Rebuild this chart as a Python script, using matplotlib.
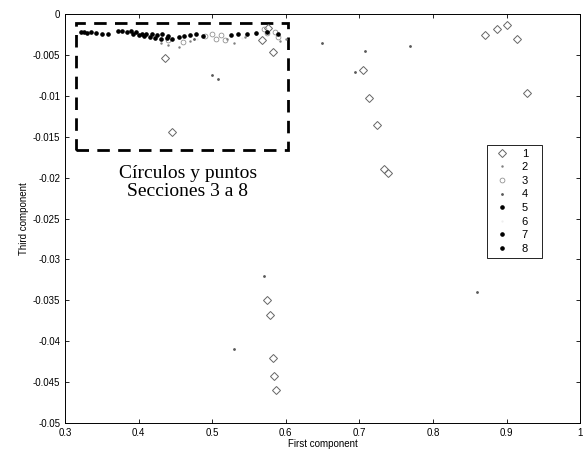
import matplotlib.pyplot as plt
from matplotlib.patches import Rectangle

plt.rcParams['font.family'] = ['Liberation Sans', 'DejaVu Sans']

# series 1: hollow diamonds
s1_x = [0.436, 0.445, 0.568, 0.576, 0.583, 0.575, 0.578, 0.582, 0.584, 0.587,
        0.705, 0.713, 0.724, 0.734, 0.739, 0.871, 0.887, 0.900, 0.914, 0.928]
s1_y = [-0.0054, -0.0144, -0.0032, -0.0017, -0.0046, -0.0350, -0.0368, -0.0420,
        -0.0443, -0.0460, -0.0068, -0.0103, -0.0136, -0.0190, -0.0194,
        -0.0026, -0.0018, -0.0013, -0.0031, -0.0097]

# series 2: tiny dotted points
s2_x = [0.430, 0.455, 0.470, 0.530, 0.545, 0.560, 0.440, 0.592, 0.600, 0.520]
s2_y = [-0.0035, -0.0040, -0.0033, -0.0035, -0.0028, -0.0024, -0.0038, -0.0033,
        -0.0030, -0.0031]

# series 3: small dashed circles
s3_x = [0.440, 0.460, 0.490, 0.500, 0.505, 0.512, 0.518, 0.570, 0.575, 0.586, 0.590]
s3_y = [-0.0032, -0.0034, -0.0027, -0.0024, -0.0030, -0.0026, -0.0032, -0.0018,
        -0.0023, -0.0022, -0.0028]

# series 4: small points
s4_x = [0.649, 0.708, 0.769, 0.500, 0.508, 0.860, 0.530, 0.570, 0.694, 0.475]
s4_y = [-0.0035, -0.0045, -0.0039, -0.0075, -0.0080, -0.0340, -0.0410, -0.0320,
        -0.0071, -0.0030]

# series 5: black dots
s5_x = [0.322, 0.326, 0.330, 0.335, 0.342, 0.350, 0.358, 0.372, 0.378, 0.384,
        0.390, 0.396, 0.404, 0.410, 0.418, 0.425, 0.432, 0.440]
s5_y = [-0.0022, -0.0022, -0.0023, -0.0022, -0.0023, -0.0024, -0.0024, -0.0021,
        -0.0021, -0.0022, -0.0021, -0.0022, -0.0024, -0.0025, -0.0024, -0.0026,
        -0.0025, -0.0027]

# series 6
s6_x = [0.480, 0.540]
s6_y = [-0.0030, -0.0029]

# series 7: black dots
s7_x = [0.455, 0.462, 0.470, 0.478, 0.488, 0.525, 0.535, 0.548, 0.560, 0.575, 0.590]
s7_y = [-0.0028, -0.0027, -0.0026, -0.0025, -0.0027, -0.0026, -0.0025, -0.0024,
        -0.0023, -0.0022, -0.0024]

# series 8: black dots
s8_x = [0.392, 0.400, 0.408, 0.415, 0.422, 0.430, 0.438, 0.446]
s8_y = [-0.0025, -0.0026, -0.0027, -0.0028, -0.0029, -0.0030, -0.0029, -0.0031]

xticks = [0.3, 0.4, 0.5, 0.6, 0.7, 0.8, 0.9, 1.0]
xlabels = ['0.3', '0.4', '0.5', '0.6', '0.7', '0.8', '0.9', '1']
yticks = [0, -0.005, -0.01, -0.015, -0.02, -0.025, -0.03, -0.035, -0.04, -0.045, -0.05]
ylabels = ['0', '-0.005', '-0.01', '-0.015', '-0.02', '-0.025', '-0.03', '-0.035',
           '-0.04', '-0.045', '-0.05']

fig = plt.figure(figsize=(5.83, 4.51), dpi=100)
ax = fig.add_axes([0.1115, 0.062, 0.8835, 0.907])

ax.plot(s1_x, s1_y, 'D', ms=4, mfc='none', mec='0.4', mew=0.7, ls='none', label='1')
ax.plot(s2_x, s2_y, '.', ms=1.5, color='0.5', ls='none', label='2')
ax.plot(s3_x, s3_y, 'o', ms=3.5, mfc='none', mec='0.5', mew=0.5, ls='none', label='3')
ax.plot(s4_x, s4_y, '.', ms=2, color='0.35', ls='none', label='4')
ax.plot(s5_x, s5_y, 'o', ms=2.3, color='k', ls='none', label='5')
ax.plot(s6_x, s6_y, '.', ms=1, color='0.92', ls='none', label='6')
ax.plot(s7_x, s7_y, 'o', ms=2.3, color='k', ls='none', label='7')
ax.plot(s8_x, s8_y, 'o', ms=2.3, color='k', ls='none', label='8')

ax.add_patch(Rectangle((0.315, -0.0166), 0.288, 0.0155, fill=False, ec='k',
                       lw=2, ls=(0, (4.5, 3))))
ax.text(0.467, -0.0206, 'Círculos y puntos\nSecciones 3 a 8', ha='center', va='center',
        family=['Liberation Serif', 'DejaVu Serif'], fontsize=14, linespacing=1.05)

ax.set_xlim(0.3, 1.0)
ax.set_ylim(-0.05, 0)
ax.set_xticks(xticks)
ax.set_xticklabels(xlabels)
ax.set_yticks(yticks)
ax.set_yticklabels(ylabels)
ax.tick_params(direction='in', length=3, labelsize=7, width=0.6, top=True, right=True)
for sp in ax.spines.values():
    sp.set_linewidth(0.7)
ax.set_xlabel('First component', fontsize=7, labelpad=1)
ax.set_ylabel('Third component', fontsize=7, labelpad=3)

leg = ax.legend(loc='upper left', bbox_to_anchor=(0.819, 0.403, 0.107, 0.277),
                mode='expand', fontsize=8, handlelength=2.0, handletextpad=0.8,
                labelspacing=0.32, borderpad=0.35, borderaxespad=0,
                fancybox=False, framealpha=1)
leg.get_frame().set_edgecolor('k')
leg.get_frame().set_linewidth(0.6)

fig.savefig('out.png', dpi=100)
